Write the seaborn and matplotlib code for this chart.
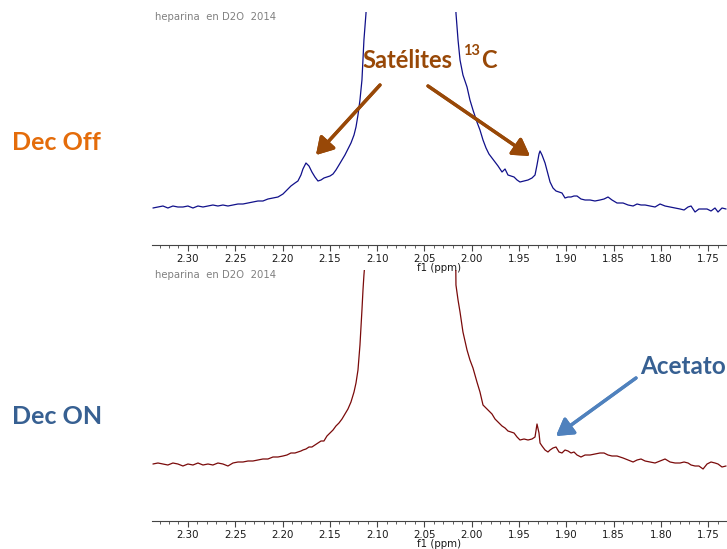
import numpy as np
import pandas as pd
import seaborn as sns
import matplotlib.pyplot as plt
from matplotlib.ticker import MultipleLocator

# chemical shift grid (ppm)
ppm = [2.3370, 2.3317, 2.3264, 2.3212, 2.3159, 2.3106, 2.3053, 2.3000, 2.2947, 2.2894,
       2.2841, 2.2788, 2.2736, 2.2683, 2.2630, 2.2577, 2.2524, 2.2471, 2.2418, 2.2365,
       2.2313, 2.2260, 2.2207, 2.2154, 2.2101, 2.2048, 2.1995, 2.1953, 2.1911, 2.1868,
       2.1837, 2.1805, 2.1784, 2.1752, 2.1720, 2.1689, 2.1657, 2.1625, 2.1593, 2.1562,
       2.1530, 2.1498, 2.1466, 2.1435, 2.1403, 2.1371, 2.1340, 2.1308, 2.1276, 2.1244,
       2.1223, 2.1202, 2.1181, 2.1160, 2.1149, 2.1139, 2.1117,
       2.1075, 2.0969, 2.0811, 2.0620, 2.0441, 2.0282, 2.0208,
       2.0166, 2.0144, 2.0123, 2.0092, 2.0049, 2.0018, 1.9986, 1.9944, 1.9912, 1.9880,
       1.9848, 1.9817, 1.9785, 1.9753, 1.9721, 1.9679, 1.9647, 1.9616, 1.9584, 1.9552,
       1.9520, 1.9489, 1.9446, 1.9404, 1.9362, 1.9330, 1.9309, 1.9288, 1.9277, 1.9256,
       1.9224, 1.9193, 1.9171, 1.9140, 1.9108, 1.9076, 1.9045, 1.9013, 1.8981, 1.8949,
       1.8918, 1.8886, 1.8844, 1.8801, 1.8748, 1.8696, 1.8643, 1.8600, 1.8558, 1.8516,
       1.8463, 1.8399, 1.8346, 1.8293, 1.8251, 1.8209, 1.8166, 1.8113, 1.8061, 1.8008,
       1.7955, 1.7902, 1.7849, 1.7796, 1.7754, 1.7712, 1.7680, 1.7638, 1.7597, 1.7553,
       1.7511, 1.7469, 1.7427, 1.7395, 1.7353, 1.7310]

# Dec Off intensity (arbitrary units)
dec_off = [-1, 0, 1, -1, 1, 0, 0, 1, -1, 1,
           0, 1, 2, 1, 2, 1, 2, 3, 3, 4,
           5, 6, 6, 8, 9, 10, 13, 17, 21, 24,
           26, 32, 38, 44, 41, 35, 30, 26, 27, 29,
           30, 31, 33, 37, 42, 47, 52, 58, 64, 72,
           80, 92, 107, 127, 147, 167, 194,
           600, 2000, 5000, 8000, 5000, 2000, 600,
           194, 167, 147, 132, 120, 107, 97, 85, 77, 67,
           59, 53, 49, 45, 41, 35, 38, 32, 31, 30,
           27, 25, 26, 27, 29, 32, 42, 53, 56, 52,
           44, 33, 25, 19, 16, 15, 14, 9, 10, 10,
           11, 11, 8, 7, 7, 6, 7, 8, 10, 7,
           4, 4, 2, 1, 3, 2, 2, 1, 0, 3,
           1, 0, -1, -2, -3, 0, 1, -5, -2, -2,
           -2, -4, -1, -5, -1, -2]

# Dec ON intensity (arbitrary units)
dec_on = [-1, 0, -1, -2, 0, -1, -3, -1, -2, 0,
          -2, -1, -2, 0, -1, -3, 0, 1, 1, 2,
          2, 3, 4, 4, 6, 6, 7, 8, 10, 10,
          11, 12, 13, 14, 16, 16, 18, 20, 22, 22,
          27, 30, 33, 37, 40, 44, 49, 54, 61, 71,
          80, 93, 118, 153, 173, 188, 213,
          600, 2000, 5000, 8000, 5000, 2000, 600,
          178, 163, 151, 131, 113, 103, 95, 81, 71, 58,
          55, 52, 49, 44, 41, 37, 35, 32, 31, 30,
          26, 23, 24, 23, 24, 26, 39, 30, 20, 17,
          13, 11, 13, 15, 16, 11, 10, 13, 12, 10,
          11, 8, 6, 8, 8, 9, 10, 10, 8, 7,
          7, 5, 3, 1, 3, 4, 2, 1, 0, 2,
          4, 1, 0, 0, 1, 0, -2, -3, -3, -6,
          -1, 1, 0, -1, -4, -3]

tick_ppm = [2.30, 2.25, 2.20, 2.15, 2.10, 2.05, 2.00, 1.95, 1.90, 1.85, 1.80, 1.75]

df = pd.DataFrame({"ppm": ppm, "off": dec_off, "on": dec_on})

sns.set_style("white")
plt.rcParams['font.family'] = ['DejaVu Sans']

W, H = 727, 549
fig = plt.figure(figsize=(W / 100, H / 100), dpi=100)

def fx(x):
    return x / W

def fy(y):
    return 1 - y / H

ax_top = fig.add_axes([fx(152), fy(245), fx(727) - fx(152), 233 / H])
ax_bot = fig.add_axes([fx(152), fy(521), fx(727) - fx(152), 251 / H])

sns.lineplot(data=df, x="ppm", y="off", color="#10108a", lw=0.9, estimator=None, ax=ax_top)
sns.lineplot(data=df, x="ppm", y="on", color="#7a0a0a", lw=0.9, estimator=None, ax=ax_bot)

ax_top.set_ylim(-38, 195)
ax_bot.set_ylim(-58, 193)

for ax in [ax_top, ax_bot]:
    ax.set_xlim(2.338, 1.730)
    ax.set_xticks(tick_ppm)
    ax.set_xticklabels(["%.2f" % t for t in tick_ppm])
    ax.xaxis.set_minor_locator(MultipleLocator(0.01))
    ax.tick_params(axis="x", which="major", direction="out", length=4, width=0.8,
                   color="#444444", labelsize=7.4, labelcolor="#1a1a1a", pad=2.5, bottom=True)
    ax.tick_params(axis="x", which="minor", direction="out", length=2, width=0.6,
                   color="#444444", bottom=True)
    ax.set_yticks([])
    ax.set_ylabel("")
    ax.set_xlabel("f1 (ppm)", fontsize=7.4, color="#1a1a1a", labelpad=-1)
    for s in ["top", "left", "right"]:
        ax.spines[s].set_visible(False)
    ax.spines["bottom"].set_color("#444444")
    ax.spines["bottom"].set_linewidth(0.8)
    ax.patch.set_alpha(0)

# header texts
for y in [17, 275]:
    fig.text(fx(155), fy(y), "heparina  en D2O  2014", fontsize=7.3, color="#808080",
             va="center", ha="left")

# side labels
fig.text(fx(12), fy(143), "Dec Off", fontsize=18, fontweight="bold", family="Lato",
         color="#E46C0A", va="center", ha="left")
fig.text(fx(12), fy(417), "Dec ON", fontsize=18, fontweight="bold", family="Lato",
         color="#376092", va="center", ha="left")

# Satelites 13C
brown = "#984807"
fig.text(fx(362), fy(68), "Satélites", fontsize=17, fontweight="bold", family="Lato",
         color=brown, va="baseline", ha="left")
fig.text(fx(463), fy(55), "13", fontsize=10.5, fontweight="bold", family="Lato",
         color=brown, va="baseline", ha="left")
fig.text(fx(481), fy(68), "C", fontsize=17, fontweight="bold", family="Lato",
         color=brown, va="baseline", ha="left")

arrow_b = dict(arrowstyle="-|>,head_length=1.0,head_width=0.6", color=brown, lw=2.4,
               shrinkA=0, shrinkB=0)
fig.add_artist(plt.annotate("", xy=(fx(316), fy(155)), xytext=(fx(380), fy(85)),
                            xycoords="figure fraction", arrowprops=arrow_b))
fig.add_artist(plt.annotate("", xy=(fx(530), fy(156)), xytext=(fx(428), fy(86)),
                            xycoords="figure fraction", arrowprops=arrow_b))

# Acetato
fig.text(fx(640), fy(367), "Acetato", fontsize=17.5, fontweight="bold", family="Lato",
         color="#376092", va="center", ha="left")
arrow_a = dict(arrowstyle="-|>,head_length=1.0,head_width=0.6", color="#4F81BD", lw=2.4,
               shrinkA=0, shrinkB=0)
fig.add_artist(plt.annotate("", xy=(fx(556), fy(436)), xytext=(fx(636), fy(378)),
                            xycoords="figure fraction", arrowprops=arrow_a))

fig.savefig("out.png", dpi=100)
